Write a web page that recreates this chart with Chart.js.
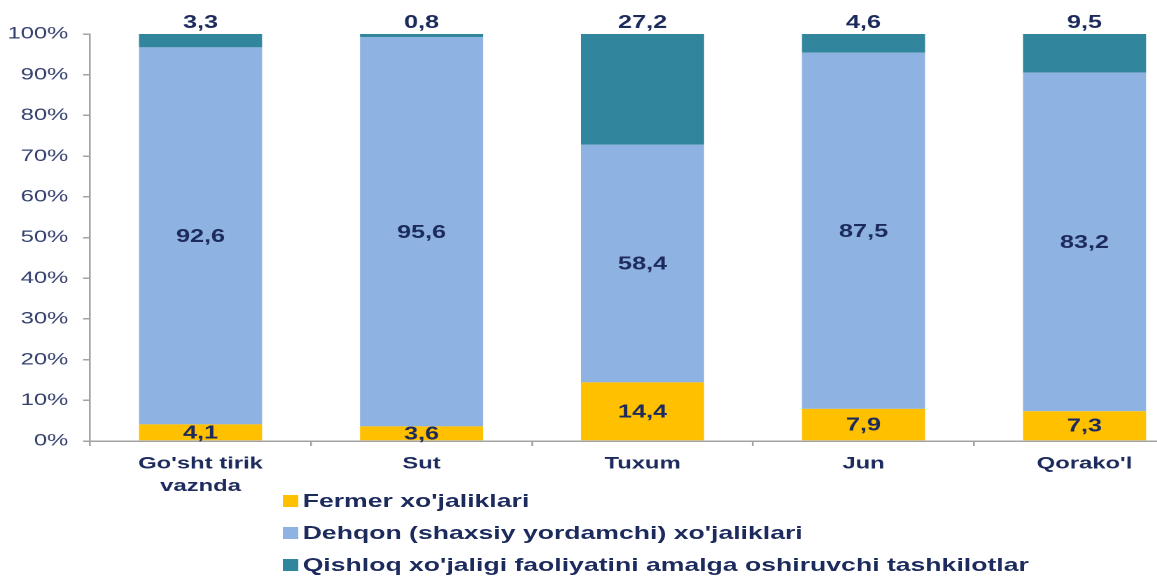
<!DOCTYPE html>
<html>
<head>
<meta charset="utf-8">
<script src="https://cdn.jsdelivr.net/npm/chart.js@4"></script>
<style>
  html, body { margin: 0; padding: 0; background: #fff; overflow: hidden; width: 1157px; height: 576px; }
  #wrap {
    position: absolute; left: 0; top: 0;
    width: 855px; height: 576px;
    transform: scaleX(1.4); transform-origin: 0 0;
  }
  #legend {
    position: absolute; left: 202px; top: 485px;
    font-family: "Liberation Sans", Arial, sans-serif;
    font-weight: bold; font-size: 19px; color: #1c2a5c;
  }
  #legend .item { display: flex; align-items: center; height: 32px; white-space: nowrap; }
  #legend .box { width: 10.7px; height: 12px; margin-right: 3.5px; }
</style>
</head>
<body>
<div id="wrap">
  <canvas id="shareChart"></canvas>
  <div id="legend"></div>
</div>
<script>
const categories = [["Go'sht tirik", 'vaznda'], 'Sut', 'Tuxum', 'Jun', "Qorako'l"];
const seriesNames = [
  "Fermer xo'jaliklari",
  "Dehqon (shaxsiy yordamchi) xo'jaliklari",
  "Qishloq xo'jaligi faoliyatini amalga oshiruvchi tashkilotlar"
];
const fermer = [4.1, 3.6, 14.4, 7.9, 7.3];
const dehqon = [92.6, 95.6, 58.4, 87.5, 83.2];
const tashkilot = [3.3, 0.8, 27.2, 4.6, 9.5];
const seriesColors = ['#FFC000', '#8EB3E2', '#31859C'];
const yTicks = [0, 10, 20, 30, 40, 50, 60, 70, 80, 90, 100];

const fontFamily = '"Liberation Sans", Arial, sans-serif';
const navy = '#1c2a5c';
const axisGray = '#a3a3a3';

// values written on the bars; the last series sits above the bar
const barLabels = {
  id: 'barLabels',
  afterDatasetsDraw(chart) {
    const ctx = chart.ctx;
    ctx.save();
    ctx.font = 'bold 18px ' + fontFamily;
    ctx.fillStyle = navy;
    ctx.textAlign = 'center';
    chart.data.datasets.forEach((ds, di) => {
      const meta = chart.getDatasetMeta(di);
      meta.data.forEach((bar, i) => {
        const p = bar.getProps(['x', 'y', 'base'], true);
        const txt = ds.data[i].toFixed(1).replace('.', ',');
        if (di === chart.data.datasets.length - 1) {
          ctx.textBaseline = 'bottom';
          ctx.fillText(txt, p.x, Math.min(p.y, p.base) - 2);
        } else {
          ctx.textBaseline = 'middle';
          ctx.fillText(txt, p.x, (p.y + p.base) / 2 + 1);
        }
      });
    });
    ctx.restore();
  }
};

const datasets = [fermer, dehqon, tashkilot].map((data, i) => ({
  label: seriesNames[i],
  data: data,
  backgroundColor: seriesColors[i],
  borderWidth: 0,
  barPercentage: 0.557,
  categoryPercentage: 1
}));

const chart = new Chart(document.getElementById('shareChart').getContext('2d'), {
  type: 'bar',
  data: { labels: categories, datasets },
  plugins: [barLabels],
  options: {
    responsive: true,
    maintainAspectRatio: false,
    animation: false,
    devicePixelRatio: 2,
    layout: { padding: { top: 34, left: 0, right: 1.4, bottom: 0 } },
    plugins: {
      legend: { display: false },
      tooltip: { enabled: false }
    },
    scales: {
      x: {
        stacked: true,
        afterFit: s => { s.height = 135; },
        grid: { display: true, drawOnChartArea: false, offset: true, tickLength: 5, color: axisGray, lineWidth: 1.3 },
        border: { display: true, color: axisGray, width: 1.5 },
        ticks: {
          color: navy, padding: 7,
          font: { family: fontFamily, size: 17, weight: 'bold', lineHeight: 1.3 }
        }
      },
      y: {
        stacked: true,
        min: 0,
        max: 100,
        afterFit: s => { s.width = 64.3; },
        afterBuildTicks: s => { s.ticks = yTicks.map(v => ({ value: v })); },
        grid: { display: true, drawOnChartArea: false, tickLength: 5, color: axisGray, lineWidth: 1.5 },
        border: { display: true, color: axisGray, width: 1.3 },
        ticks: {
          color: '#34406e', padding: 10.5,
          font: { family: fontFamily, size: 17 },
          callback: v => v + '%'
        }
      }
    }
  }
});

// vertical legend under the axis labels
const legendEl = document.getElementById('legend');
chart.data.datasets.forEach(ds => {
  const row = document.createElement('div');
  row.className = 'item';
  const box = document.createElement('span');
  box.className = 'box';
  box.style.background = ds.backgroundColor;
  const label = document.createElement('span');
  label.textContent = ds.label;
  row.appendChild(box);
  row.appendChild(label);
  legendEl.appendChild(row);
});
</script>
</body>
</html>
